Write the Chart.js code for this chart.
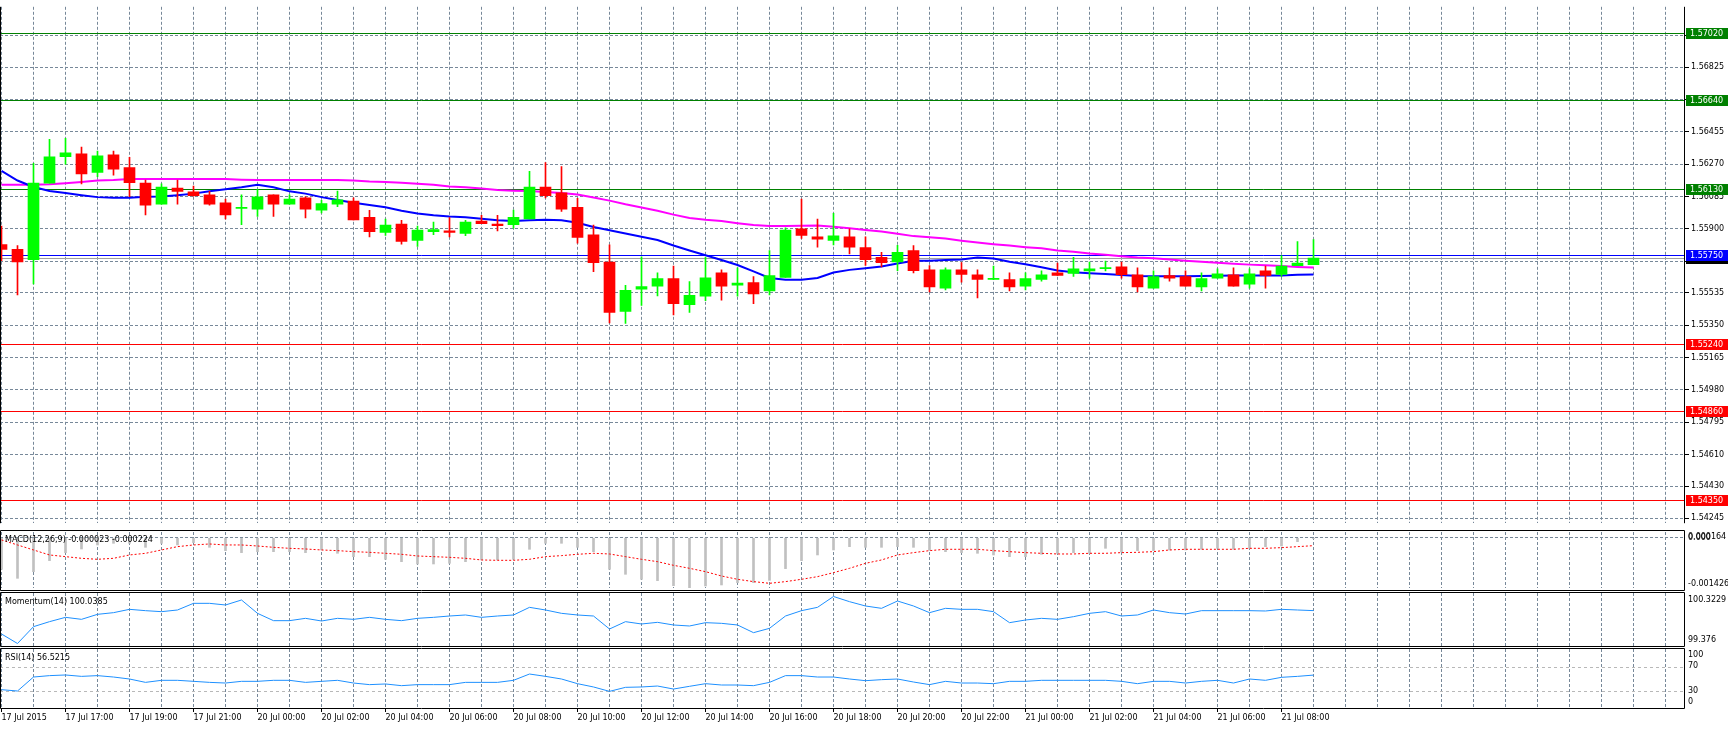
<!DOCTYPE html>
<html>
<head>
<meta charset="utf-8">
<script src="https://cdn.jsdelivr.net/npm/chart.js@4.4.0/dist/chart.umd.min.js"></script>
<style>
  html, body { margin: 0; padding: 0; background: #fff; overflow: hidden; }
  #wrap { position: relative; width: 1728px; height: 730px; }
  canvas { position: absolute; left: 0; }
</style>
</head>
<body>
<div id="wrap">
  <canvas id="priceChart" width="1728" height="530" style="top:0"></canvas>
  <canvas id="macdChart" width="1728" height="61" style="top:530px"></canvas>
  <canvas id="momChart" width="1728" height="56" style="top:591px"></canvas>
  <canvas id="rsiChart" width="1728" height="83" style="top:647px"></canvas>
</div>
<script>
// M30 bars, 17 Jul 2015 15:00 .. 21 Jul 2015 09:00
const opens = [1.55811,1.55783,1.55724,1.56162,1.56314,1.56329,1.56223,1.56324,1.56251,1.56162,
  1.56041,1.56134,1.56112,1.56095,1.56050,1.56017,1.56013,1.56095,1.56041,1.56078,
  1.56008,1.56041,1.56060,1.55967,1.55880,1.55928,1.55835,1.55885,1.55889,1.55874,
  1.55945,1.55928,1.55924,1.55958,1.56140,1.56106,1.56023,1.55867,1.55711,1.55428,
  1.55556,1.55573,1.55616,1.55467,1.55516,1.55649,1.55579,1.55594,1.55545,1.55623,
  1.55900,1.55855,1.55835,1.55855,1.55794,1.55738,1.55712,1.55777,1.55666,1.55562,
  1.55666,1.55638,1.55612,1.55610,1.55573,1.55612,1.55649,1.55646,1.55660,1.55673,
  1.55683,1.55638,1.55562,1.55633,1.55627,1.55568,1.55618,1.55638,1.55584,1.55660,
  1.55640,1.55690,1.55696];
const highs = [1.55917,1.55805,1.56275,1.56413,1.56418,1.56368,1.56346,1.56346,1.56309,1.56180,
  1.56158,1.56180,1.56145,1.56115,1.56071,1.56095,1.56127,1.56095,1.56095,1.56084,
  1.56064,1.56117,1.56078,1.56006,1.55956,1.55950,1.55917,1.55939,1.55965,1.55950,
  1.55978,1.55978,1.56008,1.56229,1.56279,1.56257,1.56075,1.55922,1.55809,1.55577,
  1.55740,1.55649,1.55688,1.55599,1.55738,1.55666,1.55677,1.55627,1.55777,1.55907,
  1.56071,1.55956,1.55989,1.55900,1.55855,1.55766,1.55807,1.55805,1.55690,1.55677,
  1.55707,1.55666,1.55688,1.55649,1.55649,1.55660,1.55705,1.55738,1.55711,1.55716,
  1.55711,1.55677,1.55660,1.55677,1.55660,1.55649,1.55672,1.55677,1.55672,1.55688,
  1.55748,1.55828,1.55839];
const lows = [1.55718,1.55523,1.55586,1.56162,1.56270,1.56158,1.56199,1.56208,1.56084,1.55980,
  1.56041,1.56041,1.56088,1.56036,1.55958,1.55924,1.55971,1.55972,1.56041,1.55963,
  1.55991,1.56028,1.55952,1.55855,1.55863,1.55813,1.55800,1.55867,1.55855,1.55861,
  1.55930,1.55889,1.55904,1.55958,1.56078,1.56000,1.55818,1.55655,1.55363,1.55360,
  1.55462,1.55517,1.55408,1.55423,1.55490,1.55493,1.55516,1.55473,1.55523,1.55623,
  1.55846,1.55796,1.55809,1.55757,1.55692,1.55683,1.55662,1.55649,1.55540,1.55551,
  1.55595,1.55506,1.55610,1.55545,1.55551,1.55601,1.55634,1.55629,1.55618,1.55660,
  1.55618,1.55540,1.55562,1.55601,1.55573,1.55545,1.55618,1.55573,1.55562,1.55562,
  1.55629,1.55690,1.55696];
const closes = [1.55783,1.55712,1.56162,1.56312,1.56335,1.56214,1.56318,1.56242,1.56164,1.56036,
  1.56140,1.56114,1.56091,1.56041,1.55980,1.56023,1.56084,1.56041,1.56071,1.56013,
  1.56045,1.56067,1.55952,1.55885,1.55922,1.55829,1.55894,1.55896,1.55880,1.55939,
  1.55930,1.55919,1.55967,1.56140,1.56091,1.56013,1.55852,1.55707,1.55423,1.55549,
  1.55571,1.55616,1.55473,1.55521,1.55621,1.55573,1.55590,1.55529,1.55634,1.55894,
  1.55863,1.55841,1.55861,1.55796,1.55724,1.55707,1.55766,1.55662,1.55568,1.55666,
  1.55640,1.55612,1.55616,1.55568,1.55616,1.55638,1.55634,1.55672,1.55672,1.55677,
  1.55638,1.55568,1.55627,1.55618,1.55573,1.55616,1.55644,1.55573,1.55644,1.55634,
  1.55688,1.55705,1.55733];

const maFast = [1.56232,1.56177,1.56140,1.56117,1.56106,1.56093,1.56082,1.56078,1.56078,1.56084,
  1.56086,1.56093,1.56102,1.56115,1.56127,1.56138,1.56153,1.56138,1.56115,1.56102,
  1.56082,1.56065,1.56050,1.56037,1.56024,1.56004,1.55989,1.55978,1.55971,1.55967,
  1.55958,1.55950,1.55945,1.55950,1.55952,1.55950,1.55935,1.55911,1.55893,1.55874,
  1.55855,1.55837,1.55805,1.55777,1.55750,1.55722,1.55694,1.55657,1.55620,1.55610,
  1.55610,1.55620,1.55651,1.55666,1.55675,1.55685,1.55703,1.55718,1.55718,1.55722,
  1.55725,1.55737,1.55731,1.55712,1.55698,1.55681,1.55662,1.55653,1.55647,1.55642,
  1.55636,1.55631,1.55629,1.55629,1.55629,1.55631,1.55633,1.55634,1.55634,1.55634,
  1.55634,1.55638,1.55640];
const maSlow = [1.56153,1.56153,1.56153,1.56156,1.56162,1.56169,1.56177,1.56180,1.56186,1.56186,
  1.56186,1.56186,1.56186,1.56186,1.56186,1.56182,1.56180,1.56180,1.56180,1.56180,
  1.56180,1.56180,1.56177,1.56171,1.56169,1.56164,1.56158,1.56153,1.56143,1.56138,
  1.56132,1.56123,1.56119,1.56117,1.56112,1.56106,1.56097,1.56080,1.56062,1.56041,
  1.56023,1.56004,1.55982,1.55963,1.55952,1.55945,1.55933,1.55922,1.55917,1.55917,
  1.55919,1.55920,1.55913,1.55904,1.55894,1.55885,1.55872,1.55859,1.55852,1.55846,
  1.55833,1.55822,1.55813,1.55805,1.55796,1.55789,1.55777,1.55770,1.55759,1.55753,
  1.55744,1.55737,1.55733,1.55725,1.55718,1.55712,1.55707,1.55701,1.55696,1.55692,
  1.55688,1.55683,1.55679];

const macdMain = [-0.000895,-0.001151,-0.000962,-0.000649,-0.000422,-0.000318,-0.000204,-0.000157,-0.000157,-0.000271,
  -0.000157,-0.000204,-0.000138,-0.000271,-0.000365,-0.000422,-0.000394,-0.000394,-0.000394,-0.000422,
  -0.000346,-0.000441,-0.000536,-0.000536,-0.000611,-0.000678,-0.000744,-0.000744,-0.000725,-0.000678,
  -0.000630,-0.000630,-0.000611,-0.000327,-0.000157,-0.000157,-0.000271,-0.000394,-0.000895,-0.001037,
  -0.001179,-0.001217,-0.001359,-0.001426,-0.001369,-0.001340,-0.001274,-0.001274,-0.001208,-0.000876,
  -0.000649,-0.000488,-0.000346,-0.000252,-0.000271,-0.000271,-0.000252,-0.000271,-0.000356,-0.000394,
  -0.000422,-0.000441,-0.000488,-0.000536,-0.000536,-0.000469,-0.000441,-0.000422,-0.000441,-0.000299,
  -0.000403,-0.000365,-0.000365,-0.000346,-0.000346,-0.000327,-0.000299,-0.000327,-0.000299,-0.000252,
  -0.000233,-0.000110,-0.000023];
const macdSignal = [-0.000062,-0.000204,-0.000346,-0.000488,-0.000536,-0.000583,-0.000611,-0.000583,-0.000488,-0.000441,
  -0.000346,-0.000252,-0.000204,-0.000176,-0.000204,-0.000204,-0.000233,-0.000271,-0.000299,-0.000318,
  -0.000346,-0.000365,-0.000394,-0.000413,-0.000441,-0.000469,-0.000517,-0.000536,-0.000555,-0.000583,
  -0.000630,-0.000640,-0.000640,-0.000611,-0.000536,-0.000507,-0.000469,-0.000441,-0.000460,-0.000536,
  -0.000611,-0.000678,-0.000782,-0.000867,-0.000962,-0.001085,-0.001179,-0.001245,-0.001293,-0.001245,
  -0.001179,-0.001104,-0.000990,-0.000867,-0.000725,-0.000630,-0.000488,-0.000422,-0.000365,-0.000327,
  -0.000327,-0.000327,-0.000365,-0.000394,-0.000422,-0.000441,-0.000460,-0.000460,-0.000441,-0.000441,
  -0.000422,-0.000413,-0.000394,-0.000346,-0.000327,-0.000327,-0.000327,-0.000327,-0.000299,-0.000299,
  -0.000280,-0.000252,-0.000224];

const momentum = [99.5674,99.3760,99.7151,99.8159,99.9032,99.8629,99.9636,99.9972,100.0644,100.0375,
  100.0174,100.0509,100.1852,100.1852,100.1517,100.2524,99.9838,99.8360,99.8360,99.8830,
  99.8293,99.8830,99.8629,99.9032,99.8629,99.8360,99.8830,99.9032,99.9300,99.9502,
  99.9032,99.9300,99.9502,100.1046,100.0509,99.9838,99.9502,99.9300,99.6681,99.8159,
  99.7689,99.8025,99.7487,99.7286,99.7957,99.7823,99.7487,99.5942,99.6815,99.9300,
  100.0375,100.1046,100.3229,100.2188,100.1315,100.0845,100.2322,100.1315,99.9972,100.0845,
  100.0644,100.0644,100.0174,99.7957,99.8494,99.8830,99.8629,99.9166,99.9838,100.0174,
  99.9300,99.9502,100.0509,99.9972,99.9703,100.0375,100.0375,100.0375,100.0375,100.0308,
  100.0644,100.0509,100.0385];

const rsi = [32.2,30.0,53.3,55.6,56.7,54.4,55.6,53.3,50.0,44.4,
  47.8,47.8,46.1,44.4,43.3,46.1,46.1,47.8,47.8,44.4,
  46.1,47.8,43.3,40.6,41.7,38.9,40.6,40.6,40.6,44.4,
  44.4,44.4,47.8,58.3,54.4,50.0,42.2,36.7,29.4,36.1,
  36.7,38.3,33.3,37.8,42.2,40.0,40.0,38.9,44.4,55.6,
  55.6,53.3,53.3,50.0,47.2,48.9,50.0,45.0,40.6,46.1,
  43.3,43.3,42.2,46.1,46.1,47.8,47.8,47.8,47.8,47.8,
  46.1,42.2,46.1,46.1,43.3,46.1,47.8,43.3,50.0,47.8,
  52.8,54.4,56.5215];

const priceTicks = [1.57005,1.56825,1.56640,1.56455,1.56270,1.56085,1.55900,1.55715,
  1.55535,1.55350,1.55165,1.54980,1.54795,1.54610,1.54430,1.54245];
const levels = [1.57020,1.56640,1.56130,1.55750,1.55240,1.54860,1.54350];
const levelColors = ['#008000','#008000','#008000','#0000ff','#ff0000','#ff0000','#ff0000'];

// one label per 4 bars (2 hours)
const xLabels = ['17 Jul 2015','17 Jul 17:00','17 Jul 19:00','17 Jul 21:00','20 Jul 00:00',
  '20 Jul 02:00','20 Jul 04:00','20 Jul 06:00','20 Jul 08:00','20 Jul 10:00','20 Jul 12:00',
  '20 Jul 14:00','20 Jul 16:00','20 Jul 18:00','20 Jul 20:00','20 Jul 22:00','21 Jul 00:00',
  '21 Jul 02:00','21 Jul 04:00','21 Jul 06:00','21 Jul 08:00'];

const FONT = '"DejaVu Sans", Verdana, sans-serif';
const FONT_SIZE = 8;
const FONT_CSS = FONT_SIZE + 'px ' + FONT;
const GRID = '#778899';
const UP = '#00ff00', DOWN = '#ff0000';
const X_MIN = -0.09375, X_MAX = 105.21875;   // 16 px per bar, 1685 px wide plot
const AXIS_W = 43;

const idx = closes.map((_, i) => i);
const candleColors = idx.map(i => closes[i] >= opens[i] ? UP : DOWN);

function labelAt(v) {
  const k = v / 4;
  return Number.isInteger(k) && k < xLabels.length ? xLabels[k] : '';
}

function xAxis(withLabels) {
  return {
    type: 'linear', min: X_MIN, max: X_MAX, offset: false,
    afterBuildTicks: s => {
      s.ticks = [];
      for (let v = 0; v <= X_MAX; v += 2) s.ticks.push({ value: v });
    },
    afterFit: s => { s.height = withLabels ? 21 : 0; },
    grid: {
      offset: false, color: GRID, lineWidth: 1,
      drawTicks: withLabels, tickLength: 3,
      tickColor: c => (c.tick && labelAt(c.tick.value)) ? '#000' : 'rgba(0,0,0,0)'
    },
    border: { display: false, dash: [3, 2] },
    ticks: {
      display: withLabels, autoSkip: false, maxRotation: 0, minRotation: 0,
      align: 'start', padding: 1, color: '#000',
      font: { family: FONT, size: FONT_SIZE },
      callback: v => labelAt(v)
    }
  };
}

function sideAxis(min, max, gridValues, gridColor, dash) {
  return {
    type: 'linear', position: 'right', min, max, beginAtZero: false,
    afterFit: s => { s.width = AXIS_W; },
    afterBuildTicks: s => { s.ticks = gridValues.map(v => ({ value: v })); },
    grid: { color: gridColor, drawTicks: false },
    border: { display: false, dash },
    ticks: { display: false }
  };
}

// frame, panel title and right-hand labels of each indicator window
function panelFrame(top, bottom, title, side) {
  return {
    id: 'panelFrame',
    afterDraw(chart) {
      const { ctx, chartArea: a } = chart;
      ctx.save();
      ctx.strokeStyle = '#000';
      ctx.lineWidth = 1;
      ctx.beginPath();
      ctx.moveTo(0.5, bottom); ctx.lineTo(0.5, top);
      ctx.lineTo(a.right - 0.5, top); ctx.lineTo(a.right - 0.5, bottom);
      ctx.lineTo(0.5, bottom);
      ctx.stroke();
      ctx.fillStyle = '#000';
      ctx.font = FONT_CSS;
      ctx.textBaseline = 'middle';
      ctx.textAlign = 'left';
      if (title) ctx.fillText(title, 5, top + 9);
      const y = chart.scales.y;
      side.forEach(s => ctx.fillText(s.text, 1688, y.getPixelForValue(s.value) + s.dy));
      ctx.restore();
    }
  };
}

const common = {
  responsive: false, animation: false, devicePixelRatio: 1,
  layout: { padding: 0 },
  plugins: { legend: { display: false }, tooltip: { enabled: false } },
  elements: { point: { radius: 0 }, line: { tension: 0 } }
};

// ---------- main price window ----------
const priceLevels = {
  id: 'priceLevels',
  beforeDatasetsDraw(chart) {
    const { ctx, chartArea: a, scales: { y } } = chart;
    ctx.save();
    ctx.lineWidth = 1;
    const bidY = Math.round(y.getPixelForValue(closes[closes.length - 1])) + 0.5;
    ctx.strokeStyle = '#a0a0a0';
    ctx.beginPath(); ctx.moveTo(a.left, bidY); ctx.lineTo(a.right, bidY); ctx.stroke();
    levels.forEach((v, i) => {
      const py = Math.round(y.getPixelForValue(v)) + 0.5;
      ctx.strokeStyle = levelColors[i];
      ctx.beginPath(); ctx.moveTo(a.left, py); ctx.lineTo(a.right, py); ctx.stroke();
    });
    ctx.restore();
  },
  afterDraw(chart) {
    const { ctx, chartArea: a, scales: { y } } = chart;
    ctx.save();
    ctx.font = FONT_CSS;
    ctx.textBaseline = 'middle';
    ctx.textAlign = 'left';
    const box = (v, col) => {
      const py = Math.round(y.getPixelForValue(v));
      ctx.fillStyle = col;
      ctx.fillRect(a.right + 1, py - 5, 1728 - a.right - 1, 11);
      ctx.fillStyle = '#fff';
      ctx.fillText(v.toFixed(5), a.right + 5, py + 0.5);
    };
    box(closes[closes.length - 1], '#000');
    levels.forEach((v, i) => box(v, levelColors[i]));
    // window frame (left + right)
    ctx.strokeStyle = '#000';
    ctx.lineWidth = 1;
    ctx.beginPath();
    ctx.moveTo(0.5, a.bottom); ctx.lineTo(0.5, a.top);
    ctx.moveTo(a.right - 0.5, a.top); ctx.lineTo(a.right - 0.5, a.bottom);
    ctx.stroke();
    ctx.restore();
  }
};

new Chart(document.getElementById('priceChart'), {
  type: 'bar',
  data: {
    datasets: [
      {
        type: 'bar', order: 0, grouped: false,
        data: idx.map(i => ({ x: i, y: [opens[i], closes[i]] })),
        backgroundColor: candleColors, borderWidth: 0,
        barThickness: 11, minBarLength: 1
      },
      {
        type: 'bar', order: 1, grouped: false,
        data: idx.map(i => ({ x: i, y: [lows[i], highs[i]] })),
        backgroundColor: candleColors, borderWidth: 0,
        barThickness: 1, minBarLength: 1
      },
      {
        type: 'line', order: 2,
        data: idx.map(i => ({ x: i, y: maFast[i] })),
        borderColor: '#0000ff', borderWidth: 2, pointRadius: 0
      },
      {
        type: 'line', order: 3,
        data: idx.map(i => ({ x: i, y: maSlow[i] })),
        borderColor: '#ff00ff', borderWidth: 2, pointRadius: 0
      }
    ]
  },
  options: {
    ...common,
    scales: {
      x: xAxis(false),
      y: {
        type: 'linear', position: 'right', beginAtZero: false,
        min: 1.542173, max: 1.571704,
        afterFit: s => { s.width = AXIS_W; },
        afterBuildTicks: s => { s.ticks = priceTicks.map(v => ({ value: v })); },
        grid: { color: GRID, drawTicks: true, tickLength: 4, tickColor: '#000' },
        border: { display: false, dash: [3, 2] },
        ticks: {
          autoSkip: false, padding: 2, color: '#000',
          font: { family: FONT, size: FONT_SIZE },
          callback: v => v.toFixed(5)
        }
      }
    }
  },
  plugins: [priceLevels]
});

// ---------- MACD(12,26,9) ----------
const macdMin = -0.001426, macdMax = 0.000164;
new Chart(document.getElementById('macdChart'), {
  type: 'bar',
  data: {
    datasets: [
      {
        type: 'line', order: 0,
        data: idx.map(i => ({ x: i, y: macdSignal[i] })),
        borderColor: '#ff0000', borderWidth: 1, borderDash: [2, 2], pointRadius: 0
      },
      {
        type: 'bar', order: 1, grouped: false,
        data: idx.map(i => ({ x: i, y: macdMain[i] })),
        backgroundColor: '#c0c0c0', borderWidth: 0, barThickness: 2
      }
    ]
  },
  options: {
    ...common,
    layout: { padding: { top: 2, bottom: 3 } },
    scales: { x: xAxis(false), y: sideAxis(macdMin, macdMax, [0], GRID, [3, 2]) }
  },
  plugins: [panelFrame(0.5, 60.5,
    'MACD(12,26,9) ' + macdMain[macdMain.length - 1].toFixed(6) + ' ' + macdSignal[macdSignal.length - 1].toFixed(6),
    [
      { text: macdMax.toFixed(6), value: macdMax, dy: 5 },
      { text: '0.000', value: 0, dy: 0 },
      { text: macdMin.toFixed(6), value: macdMin, dy: -4.5 }
    ])]
});

// ---------- Momentum(14) ----------
const momMax = Math.max(...momentum), momMin = Math.min(...momentum);
new Chart(document.getElementById('momChart'), {
  type: 'line',
  data: {
    datasets: [{
      data: idx.map(i => ({ x: i, y: momentum[i] })),
      borderColor: '#1e90ff', borderWidth: 1, pointRadius: 0
    }]
  },
  options: {
    ...common,
    layout: { padding: { top: 2, bottom: 1 } },
    scales: { x: xAxis(false), y: sideAxis(99.3256, 100.3934, [], GRID, [3, 2]) }
  },
  plugins: [panelFrame(1.5, 55.5,
    'Momentum(14) ' + momentum[momentum.length - 1].toFixed(4),
    [
      { text: momMax.toFixed(4), value: momMax, dy: 3 },
      { text: String(momMin), value: momMin, dy: -3.5 }
    ])]
});

// ---------- RSI(14) ----------
new Chart(document.getElementById('rsiChart'), {
  type: 'line',
  data: {
    datasets: [{
      data: idx.map(i => ({ x: i, y: rsi[i] })),
      borderColor: '#1e90ff', borderWidth: 1, pointRadius: 0
    }]
  },
  options: {
    ...common,
    layout: { padding: { top: 2 } },
    scales: { x: xAxis(true), y: sideAxis(0, 100, [30, 70], '#b8b8b8', [3, 3]) }
  },
  plugins: [panelFrame(1.5, 61.5,
    'RSI(14) ' + rsi[rsi.length - 1].toFixed(4),
    [
      { text: '100', value: 100, dy: 6 },
      { text: '70', value: 70, dy: -1 },
      { text: '30', value: 30, dy: 0 },
      { text: '0', value: 0, dy: -7 }
    ])]
});
</script>
</body>
</html>
